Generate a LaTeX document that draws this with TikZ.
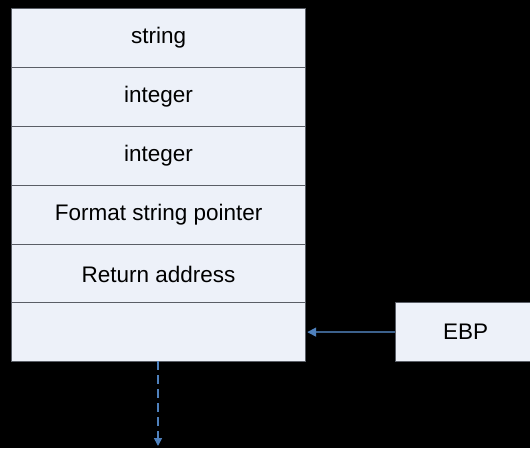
\documentclass[tikz,border=0pt]{standalone}
\usepackage{fontspec}
\setmainfont{Liberation Sans}
\usetikzlibrary{arrows.meta}
\definecolor{cellfill}{HTML}{EDF1F9}
\definecolor{celledge}{HTML}{5A5E66}
\definecolor{linkline}{HTML}{3C618C}
\definecolor{linkhead}{HTML}{4F81BD}
\begin{document}
\begin{tikzpicture}[x=1pt,y=-1pt,
  cell/.style={draw=celledge, line width=1.2pt, fill=cellfill, minimum width=294pt,
    minimum height=59pt, anchor=north west, inner sep=0pt,
    font=\fontsize{22.5}{26}\selectfont},
  regbox/.style={draw=celledge, line width=1.2pt, fill=cellfill, minimum width=140pt,
    minimum height=59pt, anchor=north west, inner sep=0pt,
    font=\fontsize{22.5}{26}\selectfont}]
  \fill[black] (0,0) rectangle (530,448);
  \useasboundingbox (0,0) rectangle (530,448);
  % stack frame cells, top to bottom
  \node[cell] (s1) at (11,8) {string};
  \node[cell] (s2) at (11,67) {integer};
  \node[cell] (s3) at (11,126) {integer};
  \node[cell] (s4) at (11,185) {Format string pointer};
  \node[cell] (s5) at (11,244) {Return address};
  \node[cell] (s6) at (11,302) {};
  % base pointer register
  \node[regbox] (ebp) at (395,302) {EBP};
  \draw[linkline, line width=1.6pt, -{Triangle[length=9pt,width=9pt,fill=linkhead,color=linkhead]}]
    (ebp.west) -- ([xshift=1pt]s6.east);
  \coordinate (down) at (158,446);
  \draw[linkhead, line width=1.6pt, dash pattern=on 9pt off 5pt, -{Triangle[length=8pt,width=8pt]}]
    (158,361) -- (down);
\end{tikzpicture}
\end{document}
